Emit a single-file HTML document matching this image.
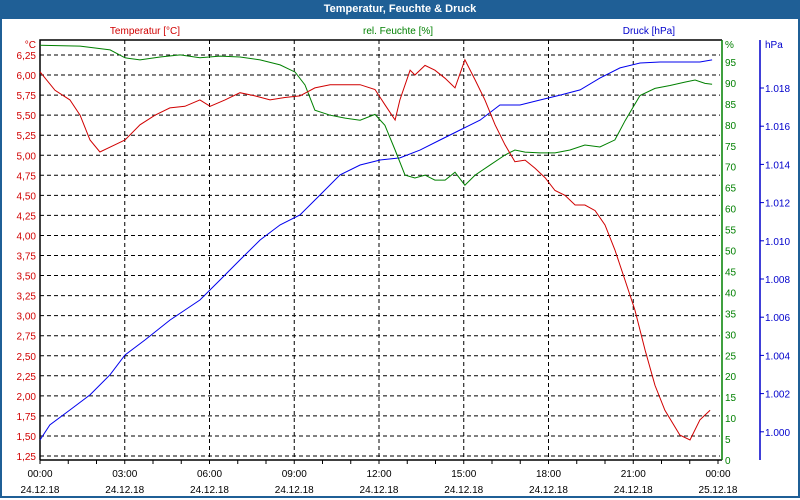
<!DOCTYPE html>
<html><head><meta charset="utf-8"><style>
body{margin:0;width:800px;height:500px;overflow:hidden;background:#fff;font-family:"Liberation Sans",sans-serif}
#frame{position:absolute;left:0;top:0;width:796px;height:496px;border:2px solid #1f5f96;border-top:none}
#title{position:absolute;left:0;top:0;width:800px;height:19px;background:#1f5f96;color:#fff;font-weight:bold;font-size:11px;text-align:center;line-height:18px}
</style></head><body>
<div id="frame"></div>
<div id="title">Temperatur, Feuchte &amp; Druck</div>
<svg id="chart" width="800" height="500" style="position:absolute;left:0;top:0"></svg>
<script>
const tempHours=[0,0.53,1.06,1.42,1.77,2.12,2.65,3.01,3.54,4.07,4.6,5.13,5.66,6.02,6.55,7.08,7.61,8.14,8.67,9.2,9.73,10.27,10.8,11.33,11.86,12.21,12.57,12.74,13.1,13.27,13.63,13.98,14.34,14.69,15.04,15.4,15.75,16.11,16.46,16.81,17.17,17.52,17.88,18.23,18.58,18.94,19.29,19.65,20,20.35,20.71,21.06,21.42,21.77,22.12,22.65,23.01,23.36,23.72];
const tempVals=[6.04,5.81,5.69,5.5,5.19,5.04,5.13,5.19,5.38,5.5,5.59,5.61,5.69,5.61,5.69,5.78,5.74,5.69,5.72,5.74,5.84,5.88,5.88,5.88,5.82,5.63,5.44,5.69,6.06,6,6.12,6.06,5.96,5.84,6.19,5.94,5.69,5.38,5.13,4.92,4.94,4.84,4.72,4.56,4.5,4.38,4.38,4.31,4.13,3.82,3.44,3.07,2.57,2.13,1.82,1.51,1.45,1.7,1.82];
const humHours=[0,1.42,2.48,3.01,3.54,4.25,4.96,5.66,6.37,7.08,7.79,8.5,9.03,9.38,9.73,10.27,10.8,11.33,11.86,12.21,12.57,12.92,13.27,13.63,13.98,14.34,14.69,15.04,15.4,15.93,16.46,16.81,17.17,17.7,18.23,18.76,19.29,19.82,20.35,20.71,21.24,21.77,22.3,22.83,23.19,23.54,23.79];
const humVals=[99,98.8,97.9,96,95.5,96.2,96.7,96,96.4,96.2,95.5,94.3,92.6,89.5,83.5,82.3,81.6,81.1,82.5,79.9,74,68,67.3,68,66.8,66.8,68.7,65.6,68,70.4,72.8,74,73.5,73.3,73.3,74,75.2,74.7,76.4,81,87,88.7,89.4,90.2,90.7,89.9,89.7];
const presHours=[0,0.35,1.06,1.77,2.48,3.01,3.72,4.6,5.66,6.37,7.08,7.79,8.5,9.2,9.91,10.62,11.33,12.04,12.74,13.45,14.16,14.87,15.58,16.28,16.99,17.7,18.41,19.12,19.82,20.53,21.24,21.95,22.65,23.36,23.79];
const presVals=[0.99957,1.00036,1.00114,1.00193,1.00299,1.00402,1.00481,1.00585,1.0069,1.00795,1.009,1.01004,1.01083,1.01135,1.0124,1.01345,1.01397,1.01423,1.01434,1.01475,1.01528,1.0158,1.01632,1.01711,1.01711,1.01737,1.01763,1.0179,1.01852,1.01905,1.01931,1.01936,1.01936,1.01936,1.01947];
const tempTicks=["6,25","6,00","5,75","5,50","5,25","5,00","4,75","4,50","4,25","4,00","3,75","3,50","3,25","3,00","2,75","2,50","2,25","2,00","1,75","1,50","1,25"];
const humTicks=[95,90,85,80,75,70,65,60,55,50,45,40,35,30,25,20,15,10,5,0];
const presTicks=["1.018","1.016","1.014","1.012","1.010","1.008","1.006","1.004","1.002","1.000"];
const timeTicks=["00:00","03:00","06:00","09:00","12:00","15:00","18:00","21:00","00:00"];
const dateTicks=["24.12.18","24.12.18","24.12.18","24.12.18","24.12.18","24.12.18","24.12.18","24.12.18","25.12.18"];

const X0=40,X1=720,Y0=40,Y1=460;
const xS=h=>X0+h*(X1-2-X0)/24;
const yT=t=>55+(6.25-t)*80.2;
const yH=v=>62+(95-v)*(398/95);
const yP=p=>88+(1.018-p)/0.001*19.1;
const svg=document.getElementById('chart');
const NS='http://www.w3.org/2000/svg';
function mk(tag,attrs,parent){const e=document.createElementNS(NS,tag);for(const k in attrs)e.setAttribute(k,attrs[k]);(parent||svg).appendChild(e);return e;}
function txt(x,y,s,fill,anchor){const e=mk('text',{x:x,y:y,fill:fill,'font-size':10,'text-anchor':anchor||'start','font-family':'Liberation Sans, sans-serif'});e.textContent=s;return e;}

tempTicks.forEach((s,i)=>{const v=parseFloat(s.replace(',','.'));const y=yT(v);
const g=mk('line',{x1:X0,x2:X1,y1:y,y2:y,stroke:'#000','stroke-dasharray':'4,3','stroke-width':1});

const t=txt(36,y+4,s,'#d00000','end');
});
timeTicks.forEach((s,i)=>{const x=xS(i*3);
if(i>0&&i<8){const g=mk('line',{x1:x,x2:x,y1:Y0,y2:Y1,stroke:'#000','stroke-dasharray':'4,3'});
}
const t=txt(x,477,s,'#000','middle');
const d=txt(x,493,dateTicks[i],'#000','middle');});
for(let h=0;h<=24;h++){const x=xS(h);const tk=mk('line',{x1:x,x2:x,y1:Y1,y2:Y1+4,stroke:'#000'});
}
let a=mk('path',{d:`M${X0},${Y1} V${Y0} H${X1+2}`,stroke:'#000',fill:'none','stroke-width':1.5});
a=mk('line',{x1:X0,x2:X1+2,y1:Y1,y2:Y1,stroke:'#000','stroke-width':1.5});
a=mk('line',{x1:X1+2,x2:X1+2,y1:Y0,y2:Y1,stroke:'#008000','stroke-width':1.5});
a=mk('line',{x1:760,x2:760,y1:Y0,y2:Y1,stroke:'#0000cc','stroke-width':1.5});
humTicks.forEach(v=>{const y=yH(v);const t=txt(725,y+4,String(v),'#008000');
});
presTicks.forEach(s=>{const y=yP(parseFloat(s));mk('line',{x1:760,x2:764,y1:y,y2:y,stroke:'#0000cc'});
const t=txt(765,y+4,s,'#0000cc');});
let l=txt(36,48,'°C','#d00000','end');
l=txt(725,48,'%','#008000');
l=txt(765,48,'hPa','#0000cc');
l=txt(145,34,'Temperatur [°C]','#d00000','middle');
l=txt(398,34,'rel. Feuchte [%]','#008000','middle');
l=txt(675,34,'Druck [hPa]','#0000cc','end');
function series(hs,vs,yf,col,name){const d=hs.map((h,i)=>(i?'L':'M')+xS(h).toFixed(1)+','+yf(vs[i]).toFixed(1)).join(' ');
const p=mk('path',{d:d,stroke:col,fill:'none','stroke-width':1});}
series(presHours,presVals,yP,'#0000ee','pressure-line');
series(humHours,humVals,yH,'#008000','humidity-line');
series(tempHours,tempVals,yT,'#d00000','temperature-line');
</script>
</body></html>
